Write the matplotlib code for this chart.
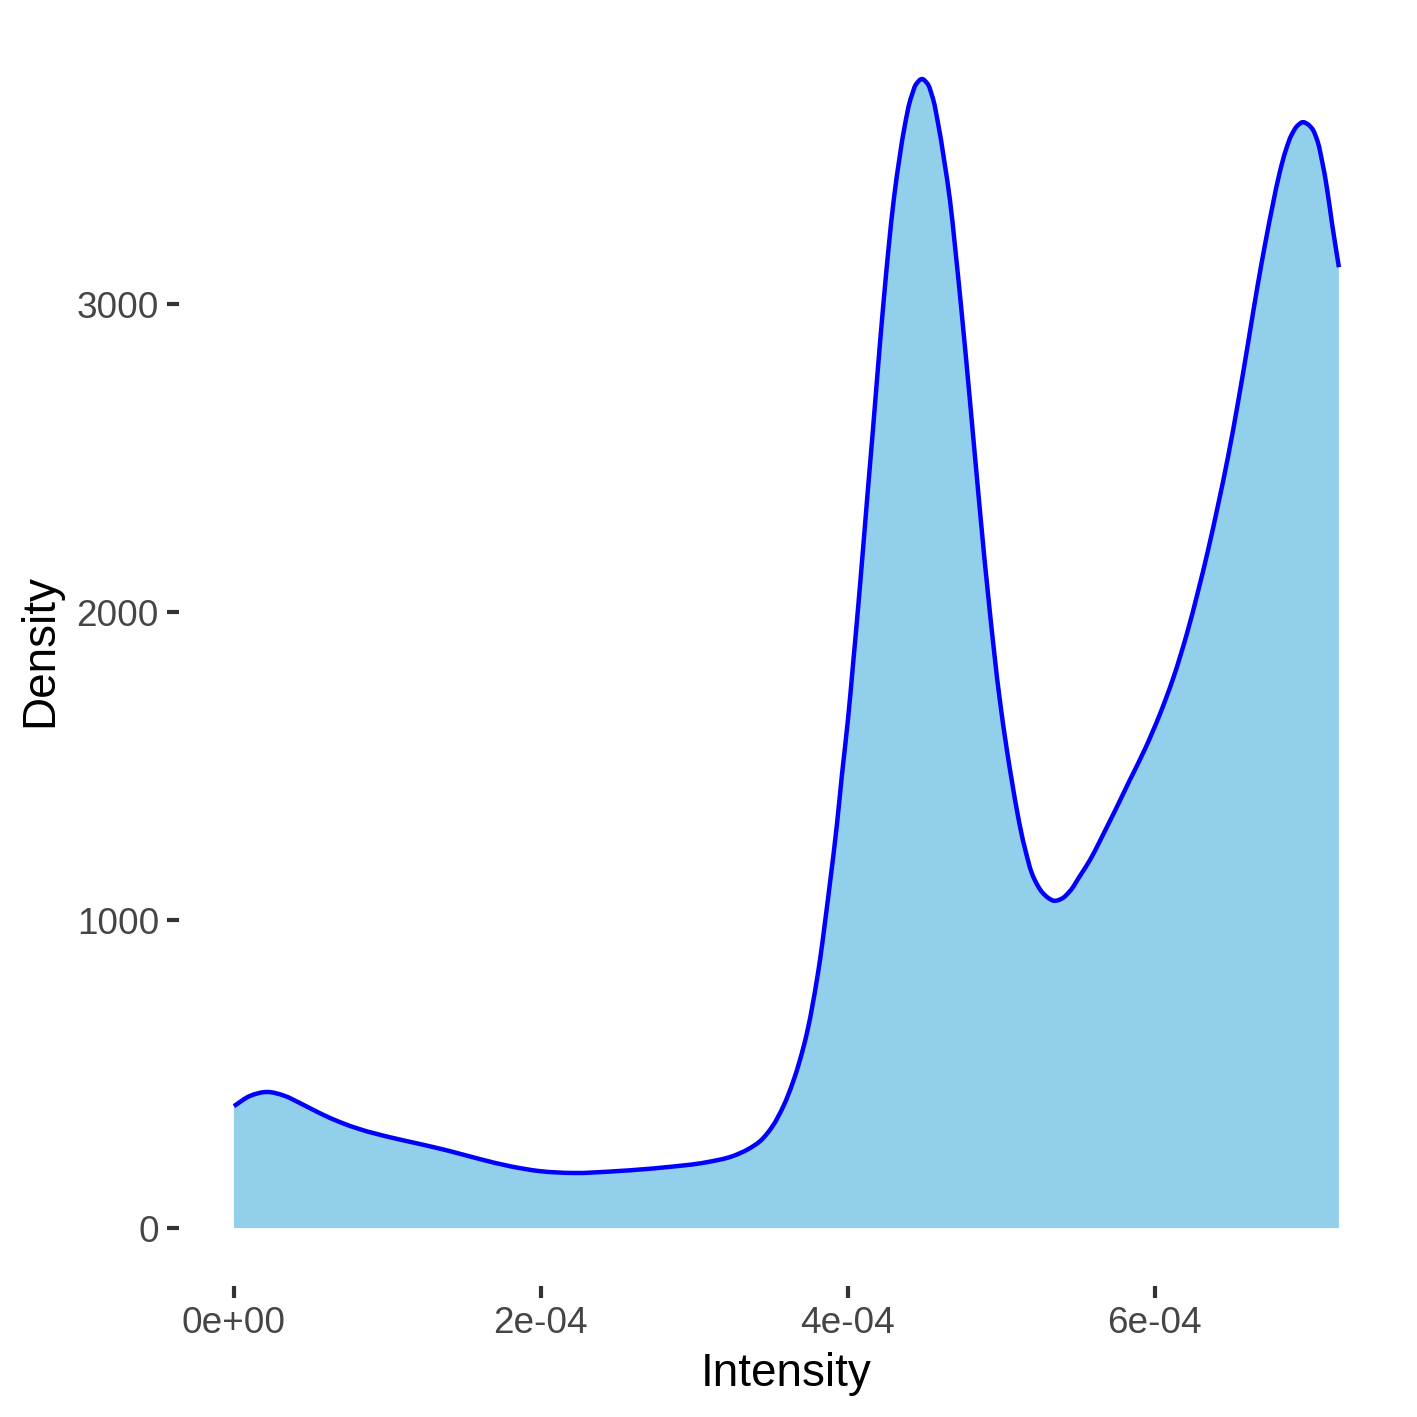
import matplotlib
matplotlib.use("Agg")
import matplotlib.pyplot as plt
from matplotlib.path import Path
from matplotlib.patches import PathPatch
import numpy as np

plt.rcParams['font.family'] = ['Liberation Sans', 'DejaVu Sans']

intensity_e4 = [0, .104, .215, .332, .430, .560, .691, .821, 1.016, 1.212, 1.407, 1.603, 1.798, 1.993, 2.208,
                2.495, 2.821, 3.081, 3.251, 3.349, 3.427, 3.505, 3.577, 3.642, 3.687, 3.733, 3.772, 3.818, 3.850,
                3.883, 3.928, 3.961, 4.000, 4.033, 4.065, 4.098, 4.130, 4.163, 4.208, 4.241, 4.267, 4.300,
                4.339, 4.371, 4.417, 4.450, 4.482, 4.515, 4.547, 4.586, 4.625, 4.665, 4.697, 4.743, 4.795,
                4.860, 4.925, 4.990, 5.036, 5.075, 5.107, 5.153, 5.218, 5.270, 5.303, 5.342, 5.394, 5.446,
                5.511, 5.577, 5.642, 5.837, 5.935, 6.033, 6.117, 6.208, 6.280, 6.345, 6.410, 6.476, 6.541,
                6.606, 6.671, 6.723, 6.769, 6.814, 6.853, 6.893, 6.932, 6.964, 6.997, 7.023, 7.055, 7.088,
                7.121, 7.153, 7.199]
density = [396, 429, 442, 429, 406, 373, 344, 321, 295, 273, 250, 224, 201, 185, 179,
           185, 198, 214, 234, 256, 282, 328, 393, 474, 545, 633, 731, 870, 990,
           1120, 1308, 1471, 1649, 1828, 2006, 2201, 2396, 2591, 2867, 3055, 3192, 3344,
           3484, 3581, 3679, 3718, 3731, 3718, 3679, 3591, 3474, 3338, 3192, 2964, 2688,
           2331, 2000, 1714, 1552, 1432, 1341, 1234, 1130, 1088, 1073, 1063, 1070, 1094,
           1143, 1195, 1257, 1455, 1555, 1669, 1782, 1929, 2065, 2198, 2344, 2503, 2679,
           2870, 3065, 3208, 3325, 3429, 3500, 3552, 3581, 3591, 3584, 3571, 3536, 3468,
           3377, 3266, 3120]
x_ticks = [0, 2e-4, 4e-4, 6e-4]
x_tick_labels = ['0e+00', '2e-04', '4e-04', '6e-04']
y_ticks = [0, 1000, 2000, 3000]
y_tick_labels = ['0', '1000', '2000', '3000']

W = 1417
fig = plt.figure(figsize=(W / 200, W / 200), dpi=200)
ax = fig.add_axes([179 / W, 1 - 1286 / W, (1394 - 179) / W, (1286 - 23) / W])
ax.set_xlim(-0.358e-4, 7.558e-4)
ax.set_ylim(-188, 3913)

x = np.array(intensity_e4) * 1e-4
y = np.array(density, dtype=float)


def smooth_path(xs, ys, axes):
    """Bezier path through the read points, so the outline has no corners."""
    p = axes.transData.transform(np.column_stack([xs, ys]))
    d = np.diff(p, axis=0)
    seg = np.linalg.norm(d, axis=1, keepdims=True)
    u = d / seg
    tan = np.zeros_like(p)
    tan[1:-1] = u[:-1] * seg[1:] + u[1:] * seg[:-1]
    tan[0], tan[-1] = d[0], d[-1]
    tan /= np.linalg.norm(tan, axis=1, keepdims=True)
    verts, codes = [p[0]], [Path.MOVETO]
    for i in range(len(d)):
        s = seg[i, 0]
        verts += [p[i] + tan[i] * s / 3, p[i + 1] - tan[i + 1] * s / 3, p[i + 1]]
        codes += [Path.CURVE4] * 3
    return np.array(verts), codes


verts_px, codes = smooth_path(x, y, ax)
verts = ax.transData.inverted().transform(verts_px)
fill_path = Path(np.vstack([verts, [x[-1], 0], [x[0], 0], verts[0]]),
                 codes + [Path.LINETO, Path.LINETO, Path.CLOSEPOLY])
ax.add_patch(PathPatch(fill_path, facecolor='#92CFEB', edgecolor='none', linewidth=0))
ax.add_patch(PathPatch(Path(verts, codes), facecolor='none', edgecolor='#0000FF', lw=1.6, capstyle='butt'))

for s in ax.spines.values():
    s.set_visible(False)
ax.set_xticks(x_ticks, x_tick_labels)
ax.set_yticks(y_ticks, y_tick_labels)
ax.tick_params(axis='both', length=4.2, width=1.5, color='#333333', labelcolor='#454545', labelsize=13.3, pad=3)
ax.set_xlabel('Intensity', fontsize=16.5, color='black', labelpad=4)
ax.set_ylabel('Density', fontsize=16.5, color='black', labelpad=7)
ax.yaxis.set_label_coords(-0.096, 0.503)
fig.savefig('out.png', dpi=200, facecolor='white')
